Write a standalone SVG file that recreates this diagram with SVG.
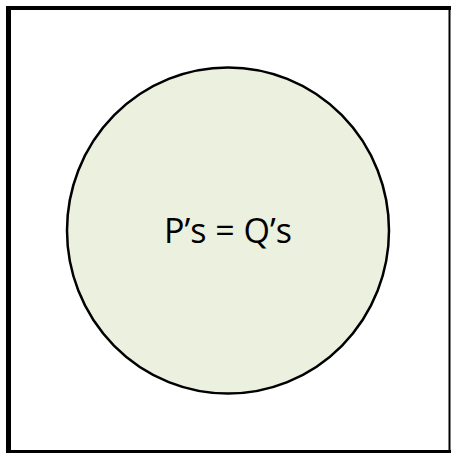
<svg xmlns="http://www.w3.org/2000/svg" width="451" height="453" viewBox="0 0 451 453">
<style>
.frame{stroke:#000;fill:none}
.lbl{font-family:"Open Sans","Noto Sans",sans-serif;font-size:35px;fill:#000}
</style>
<rect x="0" y="0" width="451" height="453" fill="#fff"/>
<g id="frame">
<line class="frame" x1="8.5" y1="6" x2="8.5" y2="453" stroke-width="5"/>
<line class="frame" x1="6" y1="8" x2="451" y2="8" stroke-width="4"/>
<line class="frame" x1="449.5" y1="6" x2="449.5" y2="453" stroke-width="2"/>
<line class="frame" x1="6" y1="451.5" x2="451" y2="451.5" stroke-width="3"/>
</g>
<g id="node-circle">
<ellipse cx="228" cy="230.5" rx="161" ry="163" fill="#EBF1DE" stroke="#000" stroke-width="2.5"/>
<text class="lbl" x="228" y="243" text-anchor="middle" textLength="128" lengthAdjust="spacingAndGlyphs">P’s = Q’s</text>
</g>
<g id="connectors"></g>
</svg>
